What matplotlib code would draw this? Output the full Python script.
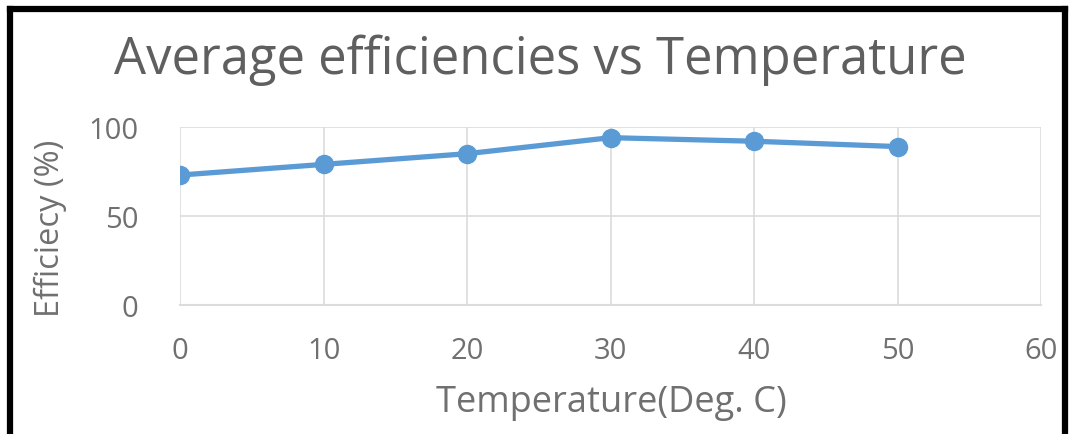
import matplotlib
matplotlib.use("Agg")
import matplotlib.pyplot as plt
from matplotlib.lines import Line2D

temperature = [0, 10, 20, 30, 40, 50]
efficiency = [73, 79, 85, 94, 92, 89]
x_ticks = [0, 10, 20, 30, 40, 50, 60]
y_ticks = [0, 50, 100]

title = "Average efficiencies vs Temperature"
x_label = "Temperature(Deg. C)"
y_label = "Efficiecy (%)"

plt.rcParams["font.family"] = ["Open Sans", "DejaVu Sans"]
title_color = "#5f5f5f"
text_color = "#707070"
grid_color = "#dcdcdc"
line_color = "#5B9BD5"

fig = plt.figure(figsize=(10.70, 4.35), dpi=100)
ax = fig.add_axes([180 / 1070, 1 - 306 / 435, (1041 - 180) / 1070, (306 - 128) / 435])

ax.plot(temperature, efficiency, color=line_color, lw=3.8, marker="o",
        markersize=13, markerfacecolor=line_color, markeredgecolor=line_color,
        zorder=3)

ax.set_xlim(0, 60)
ax.set_ylim(0, 100)
ax.set_xticks(x_ticks)
ax.set_yticks(y_ticks)
ax.tick_params(axis="both", length=0, labelsize=21, colors=text_color)
ax.tick_params(axis="x", pad=22)
ax.tick_params(axis="y", pad=30)
ax.grid(True, color=grid_color, lw=1.2)
ax.set_axisbelow(True)
for side in ("top", "right", "left"):
    ax.spines[side].set_visible(False)
ax.spines["bottom"].set_color(grid_color)
ax.spines["bottom"].set_linewidth(1.5)

fig.text(540 / 1070, 1 - 60 / 435, title, ha="center", va="center",
         fontsize=36.5, color=title_color)
fig.text(611 / 1070, 1 - 403 / 435, x_label, ha="center", va="center",
         fontsize=26, color=text_color)
fig.text(50 / 1070, 1 - 228 / 435, y_label, ha="center", va="center",
         rotation=90, fontsize=23.5, color=text_color)

# frame drawn on the left, top and right edges of the figure
for xs, ys in [([10, 10], [435, 10]), ([10, 1065], [10, 10]), ([1065, 1065], [10, 435])]:
    fig.add_artist(Line2D([x / 1070 for x in xs], [1 - y / 435 for y in ys],
                          color="black", lw=4.5, transform=fig.transFigure))

fig.savefig("out.png", dpi=100)
